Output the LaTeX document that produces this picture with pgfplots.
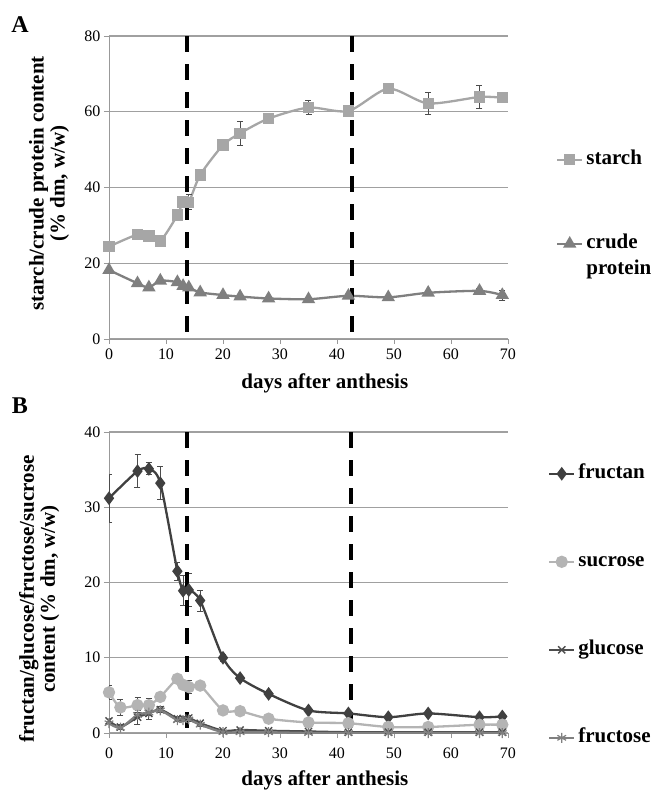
\documentclass[border=0pt]{standalone}
\usepackage{fontspec}
\setmainfont{Liberation Serif}
\usepackage{pgfplots}
\usepackage{pgfplotstable}
\pgfplotsset{compat=1.18}

\definecolor{cStarch}{HTML}{A6A6A6}
\definecolor{cProt}{HTML}{7F7F7F}
\definecolor{cFructan}{HTML}{404040}
\definecolor{cSuc}{HTML}{B4B4B4}
\definecolor{cGlu}{HTML}{4D4D4D}
\definecolor{cFru}{HTML}{808080}
\definecolor{cGrid}{HTML}{A0A0A0}

\newcommand{\lab}{\fontsize{21}{21}\selectfont\bfseries}
\newcommand{\tck}{\fontsize{16}{16}\selectfont}

% x  y  err
\pgfplotstableread{
x y e
0 24.4 0.6
5 27.6 1.2
7 27.2 0.5
9 25.9 0.8
12 32.7 1.5
13 36.2 1.5
14 36.1 2.0
16 43.3 1.3
20 51.2 0.8
23 54.3 3.2
28 58.2 0.6
35 61.1 1.8
42 60.2 0.8
49 66.1 0.6
56 62.2 2.8
65 63.9 3.0
69 63.7 0.6
}\starch
\pgfplotstableread{
x y e
0 18.2 0.4
5 14.7 0.4
7 13.6 0.4
9 15.4 0.4
12 15.0 0.5
13 14.0 0.5
14 13.6 0.4
16 12.3 0.4
20 11.6 0.3
23 11.2 0.3
28 10.7 0.3
35 10.5 0.4
42 11.4 0.5
49 11.0 0.4
56 12.2 0.5
65 12.7 0.6
69 11.6 1.3
}\protein
\pgfplotstableread{
x y e
0 31.2 3.2
5 34.8 2.2
7 35.1 0.8
9 33.2 2.2
12 21.5 1.2
13 18.9 2.0
14 19.0 2.2
16 17.6 1.4
20 10.0 0.5
23 7.3 0.3
28 5.2 0.3
35 3.0 0.2
42 2.6 0.2
49 2.1 0.2
56 2.6 0.2
65 2.1 0.2
69 2.2 0.2
}\fructan
\pgfplotstableread{
x y e
0 5.4 0.9
2 3.4 1.0
5 3.7 1.0
7 3.7 0.9
9 4.8 0.3
12 7.2 0.6
13 6.4 0.6
14 6.1 0.9
16 6.3 0.3
20 3.0 0.2
23 2.9 0.2
28 1.9 0.2
35 1.4 0.2
42 1.3 0.2
49 0.8 0.2
56 0.8 0.2
65 1.1 0.2
69 1.1 0.2
}\sucrose
\pgfplotstableread{
x y e
0 1.6 0.3
2 0.8 0.3
5 2.1 0.9
7 2.6 0.8
9 3.1 0.4
12 1.9 0.3
13 1.9 0.3
14 2.0 0.3
16 1.3 0.2
20 0.3 0.1
23 0.4 0.1
28 0.3 0.1
35 0.2 0.1
42 0.1 0.1
49 0.1 0.1
56 0.1 0.1
65 0.1 0.1
69 0.1 0.1
}\glucose
\pgfplotstableread{
x y e
0 1.3 0.2
2 0.7 0.2
5 2.4 0.3
7 2.7 0.3
9 3.0 0.3
12 1.7 0.2
13 1.7 0.2
14 1.8 0.2
16 1.1 0.2
20 0.1 0.1
23 0.1 0.1
28 0.1 0.1
35 0.0 0.0
42 0.0 0.0
49 0.0 0.0
56 0.0 0.0
65 0.0 0.0
69 0.0 0.0
}\fructose

\pgfplotsset{
  xl/.style={
    scale only axis, width=399pt,
    xmin=0, xmax=70, xtick={0,10,...,70},
    axis lines*=left,
    axis line style={draw=black!40, line width=0.9pt},
    tick align=outside, major tick length=5pt,
    grid=major, xmajorgrids=false, ymajorgrids=true,
    grid style={draw=cGrid, line width=1.2pt},
    every tick/.style={draw=black!40, line width=0.9pt},
    tick label style={font=\tck},
    /pgf/number format/assume math mode=true,
    xlabel={days after anthesis},
    label style={font=\lab},
    legend cell align=left,
    legend style={draw=none, fill=none, font=\lab, inner sep=0pt,
      column sep=3pt,
      nodes={inner sep=0pt, text height=15pt, text depth=5pt}},
    legend image code/.code={
      \draw[mark repeat=2,mark phase=2,#1] plot coordinates {(0pt,0pt) (12.5pt,0pt) (25pt,0pt)};},
    every axis plot/.append style={line width=2.3pt, smooth, tension=0.45},
    error bars/error bar style={line width=0.8pt, black!70, solid},
    error bars/error mark options={rotate=90, mark size=3pt, line width=0.8pt, black!70},
  },
  vdash/.style={black, line width=4pt, dash pattern=on 16pt off 12pt, forget plot, sharp plot, mark=none, error bars/y dir=none},
}

\begin{document}
\begin{tikzpicture}[x=1pt,y=1pt]
\useasboundingbox (0,0) rectangle (654,798);

\node[font=\fontsize{24}{24}\selectfont\bfseries] at (20,773) {A};
\node[font=\fontsize{24}{24}\selectfont\bfseries] at (20,392) {B};

\begin{axis}[xl, at={(109pt,459pt)}, anchor=south west, height=303pt,
  ymin=0, ymax=80, ytick={0,20,...,80},
  ylabel={starch/crude protein content\\(\% dm, w/w)},
  ylabel style={align=center, at={(axis description cs:-0.15,0.513)}, anchor=center, rotate=0},
  xlabel style={at={(axis description cs:0.541,-0.145)}, anchor=center},
  xticklabel style={yshift=-1pt},
  legend style={at={(axis description cs:1.12,0.625)}, anchor=north west, row sep=64pt}]
\addplot[cStarch, mark=square*, mark size=4.5pt, mark options={solid},
  error bars/.cd, y dir=both, y explicit]
  table[x=x, y=y, y error=e] {\starch};
\addlegendentry{starch}
\addplot[cProt, mark=triangle*, mark size=5.5pt, mark options={solid},
  error bars/.cd, y dir=both, y explicit]
  table[x=x, y=y, y error=e] {\protein};
\addlegendentry{\fontsize{21}{26}\selectfont\begin{tabular}[t]{@{}l@{}}crude\\protein\end{tabular}}
\addplot[vdash] coordinates {(13.7,80) (13.7,0)};
\addplot[vdash] coordinates {(42.6,80) (42.6,0)};
\end{axis}

\begin{axis}[xl, at={(109pt,65pt)}, anchor=south west, height=301pt,
  ymin=0, ymax=40, ytick={0,10,...,40},
  ylabel={fructan/glucose/fructose/sucrose\\content (\% dm, w/w)},
  ylabel style={align=center, at={(axis description cs:-0.175,0.445)}, anchor=center, rotate=0},
  xlabel style={at={(axis description cs:0.541,-0.156)}, anchor=center},
  xticklabel style={yshift=-6pt},
  legend style={at={(axis description cs:1.10,0.895)}, anchor=north west, row sep=68pt}]
\addplot[cFructan, mark=diamond*, mark size=5pt, mark options={solid},
  error bars/.cd, y dir=both, y explicit]
  table[x=x, y=y, y error=e] {\fructan};
\addlegendentry{fructan}
\addplot[cSuc, mark=*, mark size=5pt, mark options={solid},
  error bars/.cd, y dir=both, y explicit]
  table[x=x, y=y, y error=e] {\sucrose};
\addlegendentry{sucrose}
\addplot[cGlu, mark=x, mark size=5pt, mark options={solid, line width=1.4pt},
  error bars/.cd, y dir=both, y explicit]
  table[x=x, y=y, y error=e] {\glucose};
\addlegendentry{glucose}
\addplot[cFru, mark=asterisk, mark size=5pt, mark options={solid, line width=1.2pt},
  error bars/.cd, y dir=both, y explicit]
  table[x=x, y=y, y error=e] {\fructose};
\addlegendentry{fructose}
\addplot[vdash] coordinates {(13.6,40) (13.6,0)};
\addplot[vdash] coordinates {(42.4,40) (42.4,0)};
\end{axis}
\end{tikzpicture}
\end{document}
